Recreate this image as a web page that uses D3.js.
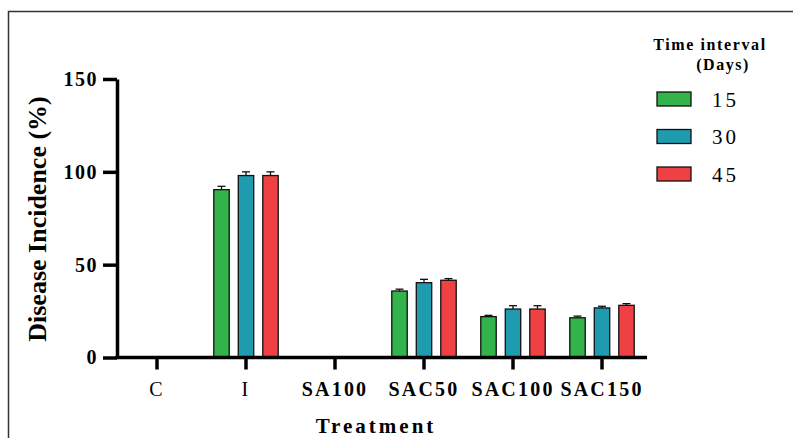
<!DOCTYPE html>
<html>
<head>
<meta charset="utf-8">
<script src="https://cdn.jsdelivr.net/npm/d3@7"></script>
<style>
  body { margin: 0; background: #fff; }
</style>
</head>
<body>
<div id="chart"></div>
<script>
// values
var treatments = ["C", "I", "SA100", "SAC50", "SAC100", "SAC150"];
var series = ["15", "30", "45"];
var colors = ["#33b44a", "#1f9bb0", "#ef4044"];
var day15 = [0, 90.4, 0, 35.8, 22.0, 21.4];
var day30 = [0, 98.0, 0, 40.3, 26.1, 26.7];
var day45 = [0, 98.0, 0, 41.6, 26.1, 28.1];
var err15 = [0, 1.8, 0, 1.0, 0.7, 0.9];
var err30 = [0, 2.0, 0, 1.8, 1.8, 0.9];
var err45 = [0, 2.0, 0, 0.9, 1.8, 0.9];
var yTicks = [0, 50, 100, 150];

var width = 793, height = 438;
var serif = "'Liberation Serif', 'Times New Roman', serif";
var values = [day15, day30, day45];
var errs = [err15, err30, err45];

var rows = [];
treatments.forEach(function(t, i) {
  series.forEach(function(s, j) {
    rows.push({treatment: t, series: s, value: values[j][i], err: errs[j][i], color: colors[j]});
  });
});

var svg = d3.select("#chart").append("svg")
  .attr("width", width)
  .attr("height", height);

// frame
svg.append("path")
  .attr("d", "M8.5," + height + "V11.5H" + width)
  .attr("fill", "none")
  .attr("stroke", "#333")
  .attr("stroke-width", 1.5);

var xScale = d3.scaleBand().domain(treatments).range([112.5, 646.5]);
var inner = d3.scaleBand().domain(series).range([-36.75, 36.75]).paddingInner(0.37).paddingOuter(0.185);
var yScale = d3.scaleLinear().domain([0, 150]).range([357.5, 79]);

function barX(d) { return xScale(d.treatment) + xScale.bandwidth() / 2 + inner(d.series); }

// bars
var shown = rows.filter(function(d) { return d.value > 0; });
var bars = svg.append("g");
bars.selectAll("rect")
  .data(shown)
  .enter().append("rect")
  .attr("x", barX)
  .attr("y", function(d) { return yScale(d.value); })
  .attr("width", inner.bandwidth())
  .attr("height", function(d) { return yScale(0) - yScale(d.value); })
  .attr("fill", function(d) { return d.color; })
  .attr("stroke", "#111")
  .attr("stroke-width", 1.3);

// error bars (upper only)
var eb = bars.selectAll(".err")
  .data(shown)
  .enter().append("g").attr("class", "err")
  .attr("transform", function(d) { return "translate(" + (barX(d) + inner.bandwidth() / 2) + ",0)"; });
eb.append("line")
  .attr("x1", 0).attr("x2", 0)
  .attr("y1", function(d) { return yScale(d.value); })
  .attr("y2", function(d) { return yScale(d.value + d.err); })
  .attr("stroke", "#111").attr("stroke-width", 1.3);
eb.append("line")
  .attr("x1", -4).attr("x2", 4)
  .attr("y1", function(d) { return yScale(d.value + d.err); })
  .attr("y2", function(d) { return yScale(d.value + d.err); })
  .attr("stroke", "#111").attr("stroke-width", 1.3);

// y axis
var yAxis = d3.axisLeft(yScale).tickValues(yTicks).tickSize(14).tickSizeOuter(0).tickPadding(5);
var gy = svg.append("g")
  .attr("transform", "translate(117,0)")
  .call(yAxis);
gy.select(".domain").attr("stroke", "#000").attr("stroke-width", 3.5);
gy.selectAll(".tick line").attr("stroke", "#000").attr("stroke-width", 3.5);
gy.selectAll(".tick text")
  .style("font-family", serif)
  .style("font-size", "20px")
  .style("font-weight", "bold")
  .style("letter-spacing", "1.5px")
  .attr("fill", "#000");

// x axis
var xAxis = d3.axisBottom(xScale).tickSize(12).tickSizeOuter(0).tickPadding(12);
var gx = svg.append("g")
  .attr("transform", "translate(0,357.5)")
  .call(xAxis);
gx.select(".domain").attr("d", "M115.3,0H647").attr("stroke", "#000").attr("stroke-width", 3.5);
gx.selectAll(".tick line").attr("stroke", "#000").attr("stroke-width", 3.5);
gx.selectAll(".tick text")
  .style("font-family", serif)
  .style("font-size", "20px")
  .style("font-weight", function(d) { return d.length > 1 ? "bold" : "normal"; })
  .style("letter-spacing", "2.2px")
  .attr("fill", "#000");

// axis titles
svg.append("text")
  .attr("transform", "translate(46,219) rotate(-90)")
  .attr("text-anchor", "middle")
  .style("font-family", serif)
  .style("font-size", "26px")
  .style("font-weight", "bold")
  .text("Disease Incidence (%)");

svg.append("text")
  .attr("x", 376).attr("y", 433)
  .attr("text-anchor", "middle")
  .style("font-family", serif)
  .style("font-size", "21px")
  .style("font-weight", "bold")
  .style("letter-spacing", "3px")
  .text("Treatment");

// legend
var legend = svg.append("g");
legend.append("text")
  .attr("x", 710).attr("y", 50)
  .attr("text-anchor", "middle")
  .style("font-family", serif)
  .style("font-size", "16px")
  .style("font-weight", "bold")
  .style("letter-spacing", "1.6px")
  .text("Time interval");
legend.append("text")
  .attr("x", 723).attr("y", 70)
  .attr("text-anchor", "middle")
  .style("font-family", serif)
  .style("font-size", "16px")
  .style("font-weight", "bold")
  .style("letter-spacing", "1.5px")
  .text("(Days)");

var legendY = d3.scalePoint().domain(series).range([99, 174]);
var items = legend.selectAll(".item")
  .data(series)
  .enter().append("g").attr("class", "item")
  .attr("transform", function(d) { return "translate(0," + legendY(d) + ")"; });
items.append("rect")
  .attr("x", 657).attr("y", -7)
  .attr("width", 34).attr("height", 14)
  .attr("fill", function(d, i) { return colors[i]; })
  .attr("stroke", "#111").attr("stroke-width", 1.3);
items.append("text")
  .attr("x", 712).attr("y", 7.5)
  .style("font-family", serif)
  .style("font-size", "21px")
  .style("letter-spacing", "3px")
  .text(function(d) { return d; });
</script>
</body>
</html>
